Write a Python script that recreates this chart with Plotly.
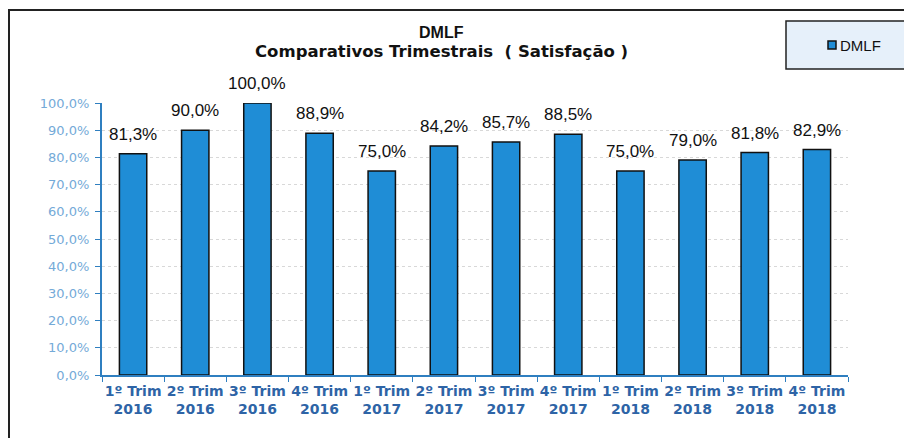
import plotly.graph_objects as go

categories = ["1º Trim<br>2016", "2º Trim<br>2016", "3º Trim<br>2016", "4º Trim<br>2016",
              "1º Trim<br>2017", "2º Trim<br>2017", "3º Trim<br>2017", "4º Trim<br>2017",
              "1º Trim<br>2018", "2º Trim<br>2018", "3º Trim<br>2018", "4º Trim<br>2018"]
values = [81.3, 90.0, 100.0, 88.9, 75.0, 84.2, 85.7, 88.5, 75.0, 79.0, 81.8, 82.9]
y_ticks = [0, 10, 20, 30, 40, 50, 60, 70, 80, 90, 100]
y_tick_text = [f"{v:.1f}%".replace(".", ",") for v in y_ticks]
series_name = "DMLF"

OFF = 8  # page body margin
W, H = 904, 430
# plot area in screen pixels
SX0, SX1, SY0, SY1 = 102, 848, 103, 375
L, R = SX0 - OFF, W - (SX1 - OFF)
T, B = SY0 - OFF, H - (SY1 - OFF)
pw, ph = W - L - R, H - T - B

def px_x(p):  # screen px -> paper
    return (p - OFF - L) / pw

def px_y(p):
    return (H - B - (p - OFF)) / ph

FONT = "Liberation Sans, Arial"
BAR = "#1f8dd6"

fig = go.Figure()
fig.add_trace(go.Bar(
    x=categories, y=values, name=series_name, showlegend=False,
    marker=dict(color=BAR, line=dict(color="#111111", width=1.5)),
))

for c, v in zip(categories, values):
    fig.add_annotation(x=c, y=v, text=f"{v:.1f}%".replace(".", ","), showarrow=False,
                       yanchor="bottom", yshift=8,
                       font=dict(family=FONT, size=17, color="#111111"))

# title
fig.add_annotation(xref="paper", yref="paper", x=px_x(441), y=px_y(32), text="<b>DMLF</b>",
                   xanchor="center", yanchor="middle",
                   showarrow=False, font=dict(family="Liberation Sans Narrow, Liberation Sans", size=16, color="#111111"))
fig.add_annotation(xref="paper", yref="paper", x=px_x(441), y=px_y(51),
                   text="<b>Comparativos Trimestrais  ( Satisfação )</b>",
                   xanchor="center", yanchor="middle",
                   showarrow=False, font=dict(family="DejaVu Sans", size=16.5, color="#111111"))

# outer frame
fig.add_shape(type="rect", xref="paper", yref="paper", x0=px_x(9), x1=px_x(940), y0=px_y(470), y1=px_y(10),
              line=dict(color="#222222", width=2), fillcolor="rgba(0,0,0,0)", layer="below")
# legend box
fig.add_shape(type="rect", xref="paper", yref="paper", x0=px_x(786), x1=px_x(910), y0=px_y(69), y1=px_y(21),
              line=dict(color="#222222", width=1.5), fillcolor="#e6f0fa", layer="below")
# legend symbol + text
fig.add_shape(type="rect", xref="paper", yref="paper", x0=px_x(828), x1=px_x(836), y0=px_y(49), y1=px_y(41),
              line=dict(color="#111111", width=1.5), fillcolor=BAR)
fig.add_annotation(xref="paper", yref="paper", x=px_x(838), y=px_y(45), text=series_name,
                   xanchor="left", yanchor="middle", showarrow=False,
                   font=dict(family=FONT, size=15, color="#111111"))

fig.update_layout(
    width=W, height=H,
    margin=dict(l=L, r=R, t=T, b=B, autoexpand=False),
    paper_bgcolor="white", plot_bgcolor="white",
    separators=",.",
    bargap=0.56,
    showlegend=False,
    xaxis=dict(
        tickson="boundaries", ticks="outside", ticklen=5, tickcolor="#2f7fc0",
        showline=True, linecolor="#2f7fc0", linewidth=2,
        tickangle=0, automargin=False,
        tickfont=dict(family="DejaVu Sans", size=14, color="#2e64a6", weight="bold"),
        ticklabelstandoff=2,
        showgrid=False,
    ),
    yaxis=dict(
        range=[0, 100], tickvals=y_ticks, ticktext=y_tick_text,
        ticks="outside", ticklen=5, tickcolor="#2f7fc0",
        showline=True, linecolor="#2f7fc0", linewidth=2,
        automargin=False,
        tickfont=dict(family="DejaVu Sans", size=13, color="#74aad8"),
        ticklabelstandoff=3,
        showgrid=True, gridcolor="#d8d8d8", griddash="dot", gridwidth=1,
        zeroline=False,
    ),
)

fig.write_html("out.html")
